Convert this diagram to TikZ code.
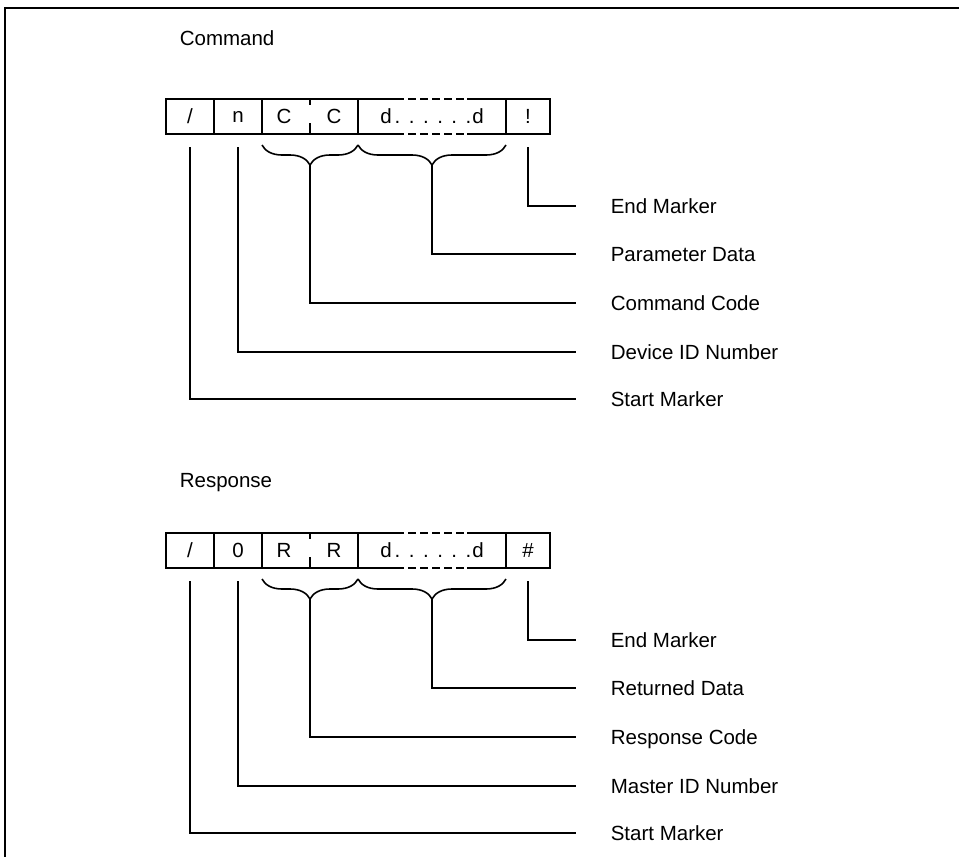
\documentclass[tikz,border=0pt]{standalone}
\usepackage{fontspec}
\setmainfont{Liberation Sans}
\usetikzlibrary{positioning, calc, decorations.pathreplacing}

\newcommand{\dfield}{d\kern3pt.\kern8.5pt.\kern8.5pt.\kern8.5pt.\kern8.5pt.\kern8.5pt.\kern1pt d}

\begin{document}
\begin{tikzpicture}[x=1pt, y=1pt, line width=1.6pt, every node/.style={font=\fontsize{20.5}{23}\selectfont}]
    \tikzstyle{cell} = [draw, minimum height=35pt, minimum width=48pt, inner sep=0pt, outer sep=0pt]
    \tikzstyle{field} = [inner sep=0pt, outer sep=0pt, minimum height=35pt, minimum width=148pt]
    \tikzstyle{lbl} = [anchor=west, inner sep=0pt, text height=14.6pt, text depth=0pt]
    \tikzstyle{lead} = [draw, line join=miter]
    \tikzstyle{brc} = [draw, decorate, decoration={brace, mirror, amplitude=20pt, raise=11pt}]

    \useasboundingbox (0,0) rectangle (959,-857);
    \draw (5,-857) -- (5,-8) -- (959,-8);

    % command frame
    \node [lbl] (cmd) at (179,-38) {Command};
    \node [cell] (c1) at (190,-116.5) {/};
    \node [cell, right=0pt of c1] (c2) {n};
    \node [cell, minimum width=96pt, right=0pt of c2] (c3) {};
    \node [field, right=0pt of c3] (c4) {\dfield};
    \node [cell, minimum width=44pt, right=0pt of c4] (c5) {!};
    \node (c3a) at ([xshift=22pt]c3.west) {C};
    \node (c3b) at ([xshift=-24pt]c3.east) {C};
    \draw (c3.north) -- +(0,-6);
    \draw (c3.south) -- +(0,11);
    \draw (c4.north west) -- +(38,0) (c4.north east) -- +(-39,0);
    \draw (c4.south west) -- +(38,0) (c4.south east) -- +(-39,0);
    \draw [dash pattern=on 8pt off 4pt] ([xshift=38pt]c4.north west) -- ([xshift=-39pt]c4.north east);
    \draw [dash pattern=on 8pt off 4pt] ([xshift=38pt]c4.south west) -- ([xshift=-39pt]c4.south east);
    \draw [brc] (c3.south west) -- (c3.south east);
    \draw [brc] (c4.south west) -- (c4.south east);
    \coordinate (cb1) at ($(c3.south)+(0,-31)$);
    \coordinate (cb2) at ($(c4.south)+(0,-31)$);

    \node [lbl] (cl1) at (610,-206) {End Marker};
    \node [lbl] (cl2) at (610,-254) {Parameter Data};
    \node [lbl] (cl3) at (610,-303) {Command Code};
    \node [lbl] (cl4) at (610,-352) {Device ID Number};
    \node [lbl] (cl5) at (610,-399) {Start Marker};

    \draw [lead] (c5.south) ++(0,-13) |- ([xshift=-34pt]cl1.west);
    \draw [lead] (cb2) |- ([xshift=-34pt]cl2.west);
    \draw [lead] (cb1) |- ([xshift=-34pt]cl3.west);
    \draw [lead] (c2.south) ++(0,-13) |- ([xshift=-34pt]cl4.west);
    \draw [lead] (c1.south) ++(0,-13) |- ([xshift=-34pt]cl5.west);

    % response frame
    \node [lbl] (rsp) at (179,-480) {Response};
    \node [cell] (r1) at (190,-550.5) {/};
    \node [cell, right=0pt of r1] (r2) {0};
    \node [cell, minimum width=96pt, right=0pt of r2] (r3) {};
    \node [field, right=0pt of r3] (r4) {\dfield};
    \node [cell, minimum width=44pt, right=0pt of r4] (r5) {\#};
    \node (r3a) at ([xshift=22pt]r3.west) {R};
    \node (r3b) at ([xshift=-24pt]r3.east) {R};
    \draw (r3.north) -- +(0,-6);
    \draw (r3.south) -- +(0,11);
    \draw (r4.north west) -- +(38,0) (r4.north east) -- +(-39,0);
    \draw (r4.south west) -- +(38,0) (r4.south east) -- +(-39,0);
    \draw [dash pattern=on 8pt off 4pt] ([xshift=38pt]r4.north west) -- ([xshift=-39pt]r4.north east);
    \draw [dash pattern=on 8pt off 4pt] ([xshift=38pt]r4.south west) -- ([xshift=-39pt]r4.south east);
    \draw [brc] (r3.south west) -- (r3.south east);
    \draw [brc] (r4.south west) -- (r4.south east);
    \coordinate (rb1) at ($(r3.south)+(0,-31)$);
    \coordinate (rb2) at ($(r4.south)+(0,-31)$);

    \node [lbl] (rl1) at (610,-640) {End Marker};
    \node [lbl] (rl2) at (610,-688) {Returned Data};
    \node [lbl] (rl3) at (610,-737) {Response Code};
    \node [lbl] (rl4) at (610,-786) {Master ID Number};
    \node [lbl] (rl5) at (610,-833) {Start Marker};

    \draw [lead] (r5.south) ++(0,-13) |- ([xshift=-34pt]rl1.west);
    \draw [lead] (rb2) |- ([xshift=-34pt]rl2.west);
    \draw [lead] (rb1) |- ([xshift=-34pt]rl3.west);
    \draw [lead] (r2.south) ++(0,-13) |- ([xshift=-34pt]rl4.west);
    \draw [lead] (r1.south) ++(0,-13) |- ([xshift=-34pt]rl5.west);
\end{tikzpicture}
\end{document}
